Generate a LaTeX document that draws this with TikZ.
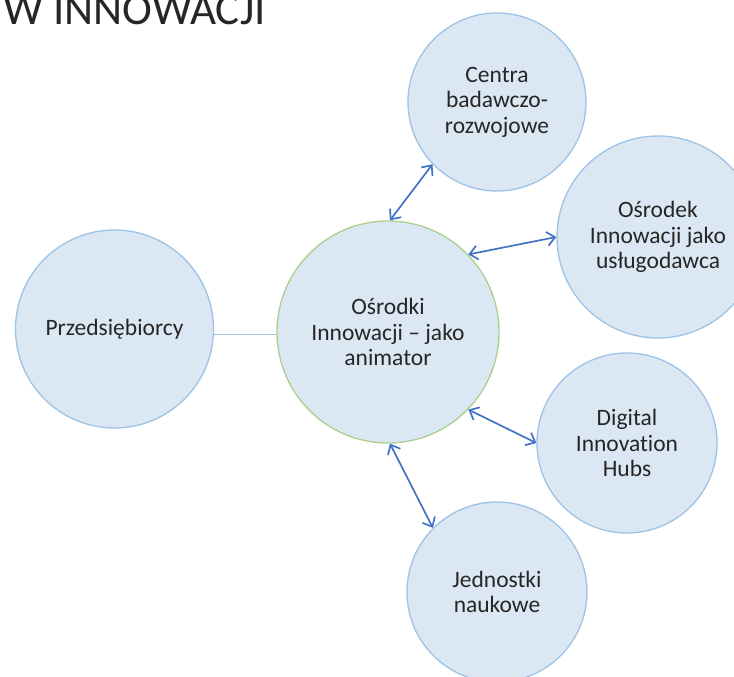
\documentclass[tikz,border=0pt]{standalone}
\usepackage{fontspec}
\setmainfont{Carlito}[Ligatures={NoCommon,NoRare,NoContextual}]
\usetikzlibrary{arrows.meta}
\definecolor{cfill}{HTML}{DCE7F4}
\definecolor{cedge}{HTML}{9DC3E6}
\definecolor{cgreen}{HTML}{A9D18E}
\definecolor{carrow}{HTML}{4472C4}
\definecolor{ctext}{HTML}{262626}
\tikzset{
  bubble/.style={circle, draw=cedge, fill=cfill, line width=1.3pt, inner sep=0pt,
    align=center, text=ctext, font=\fontsize{23.5}{25.5}\selectfont},
  hub/.style={bubble, draw=cgreen},
  link/.style={draw=carrow, line width=1.7pt,
    {Straight Barb[length=8pt,width=14pt]}-{Straight Barb[length=8pt,width=14pt]}},
  plain/.style={draw=cedge, line width=1.3pt}
}
\begin{document}
\begin{tikzpicture}[x=1pt,y=-1pt]
\clip (0,0) rectangle (734,677);
\fill[white] (0,0) rectangle (734,677);
\node[anchor=base east, text=ctext, font=\fontsize{45}{50}\selectfont, inner sep=0pt] (title) at (266,25) {W INNOWACJI};
\node[hub, minimum size=222pt] (c) at (388,332) {Ośrodki\\Innowacji – jako\\animator};
\node[bubble, minimum size=198pt] (p) at (114.5,329) {Przedsiębiorcy};
\node[bubble, minimum size=178pt] (cb) at (497,102) {Centra\\badawczo-\\rozwojowe};
\node[bubble, minimum size=202pt] (ou) at (658,237) {Ośrodek\\Innowacji jako\\usługodawca};
\node[bubble, minimum size=180pt] (dh) at (627,443) {Digital\\Innovation\\Hubs};
\node[bubble, minimum size=180pt] (jn) at (497,592) {Jednostki\\naukowe};
\draw[plain] (p.-3) -- (p.-3 -| c.west);
\draw[link] (c.89) -- (cb.224);
\draw[link] (c.44) -- (ou.180);
\draw[link] (c.-44.6) -- (dh.180);
\draw[link] (c.-89.5) -- (jn.135);
\end{tikzpicture}
\end{document}
